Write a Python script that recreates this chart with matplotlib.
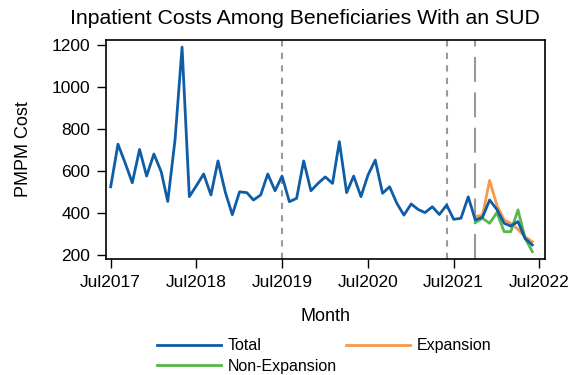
import matplotlib
matplotlib.use("Agg")
import matplotlib.pyplot as plt
import matplotlib.dates as mdates
import pandas as pd

plt.rcParams["font.family"] = ["Liberation Sans", "DejaVu Sans"]

# Monthly PMPM inpatient cost, Jul 2017 - Jun 2022
months = pd.date_range("2017-07-01", periods=60, freq="MS")
total = [525, 728, 637, 544, 703, 576, 681, 597, 455, 748,
         1190, 478, 530, 586, 486, 648, 500, 392, 501, 497,
         462, 486, 586, 506, 576, 454, 470, 648, 506, 541,
         572, 541, 740, 497, 576, 478, 581, 652, 494, 525,
         446, 390, 443, 416, 402, 430, 393, 438, 370, 375,
         477, 367, 380, 462, 417, 351, 338, 359, 279, 248]

# Expansion / non-expansion split from Oct 2021 onward
split_months = pd.date_range("2021-10-01", periods=9, freq="MS")
expansion = [383, 390, 555, 438, 367, 351, 322, 287, 263]
non_expansion = [354, 375, 351, 402, 311, 311, 415, 281, 216]

# Reference dates marked by vertical lines
short_dash_dates = [pd.Timestamp("2019-07-01"), pd.Timestamp("2021-06-01")]
long_dash_date = pd.Timestamp("2021-10-01")

y_ticks = [200, 400, 600, 800, 1000, 1200]
x_ticks = pd.date_range("2017-07-01", periods=6, freq="12MS")

fig = plt.figure(figsize=(5.69, 3.75), dpi=100)
ax = fig.add_axes([106 / 569, 1 - 259 / 375, (545 - 106) / 569, (259 - 40) / 375])

for d in short_dash_dates:
    ax.axvline(d, color="#999999", lw=1.5, ls=(0, (3.0, 3.0)), zorder=1)
ax.axvline(long_dash_date, color="#999999", lw=1.5, ls=(0, (12, 5)), zorder=1)

l_total, = ax.plot(months, total, color="#0F5DA6", lw=2.0, label="Total", zorder=3)
l_exp, = ax.plot(split_months, expansion, color="#F7994B", lw=2.0, label="Expansion", zorder=2)
l_non, = ax.plot(split_months, non_expansion, color="#55B848", lw=2.0, label="Non-Expansion", zorder=2)

ax.set_ylim(181, 1224)
ax.set_yticks(y_ticks)
ax.set_xlim(pd.Timestamp("2017-06-11"), pd.Timestamp("2022-07-25"))
ax.set_xticks(x_ticks)
ax.xaxis.set_major_formatter(mdates.DateFormatter("%b%Y"))
ax.tick_params(axis="both", direction="out", length=6.5, width=1.0, pad=5,
               labelsize=12.5, colors="black")
for s in ax.spines.values():
    s.set_linewidth(1.2)

ax.set_ylabel("PMPM Cost", fontsize=13, labelpad=14)
ax.set_xlabel("Month", fontsize=13, labelpad=13)
fig.text(305 / 569, 1 - 18 / 375, "Inpatient Costs Among Beneficiaries With an SUD",
         ha="center", va="center", fontsize=15.3)

fig.legend([l_total, l_non, l_exp], ["Total", "Non-Expansion", "Expansion"],
           ncol=2, loc="center", bbox_to_anchor=(324 / 569, 1 - 356 / 375),
           frameon=False, fontsize=11.5, handlelength=4.0, columnspacing=0.6,
           labelspacing=0.35, handletextpad=0.4)

fig.savefig("out.png", dpi=100)
